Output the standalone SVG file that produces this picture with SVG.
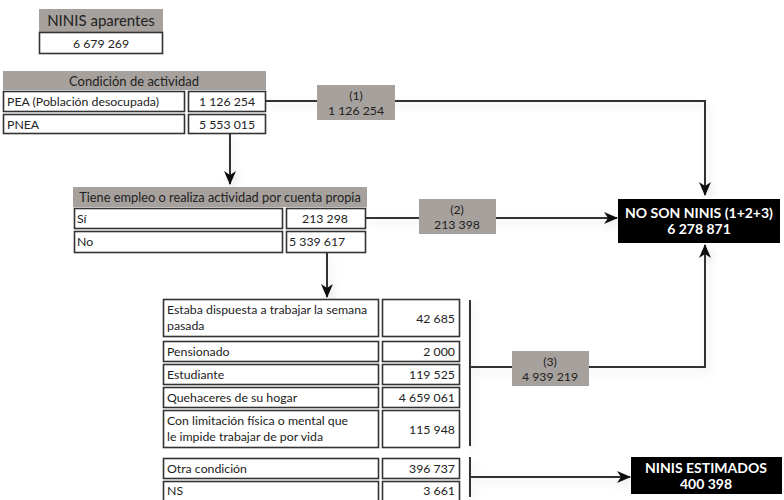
<svg xmlns="http://www.w3.org/2000/svg" width="784" height="500" viewBox="0 0 784 500">
<defs>
<style>
.t{font-family:Lato,"Open Sans","Liberation Sans",sans-serif;font-size:12.3px;fill:#222}
.h{fill:#a6a19d}
.b{fill:#fff;stroke:#333;stroke-width:1.6}
.lb{fill:#a6a19d}
.k{fill:#000}
.w{font-family:Lato,"Open Sans","Liberation Sans",sans-serif;font-size:14px;font-weight:bold;fill:#fff}
.c{fill:none;stroke:#333;stroke-width:2}
.m{text-anchor:middle}
.r{text-anchor:end}
</style>
<marker id="ar" viewBox="0 0 14 12" refX="13" refY="6" markerWidth="14" markerHeight="12" markerUnits="userSpaceOnUse" orient="auto">
<path d="M0,0 L14,6 L0,12 L4,6 z" fill="#111"/>
</marker>
<filter id="sh" x="-20%" y="-20%" width="140%" height="140%">
<feDropShadow dx="3" dy="4" stdDeviation="4" flood-color="#000" flood-opacity="0.12"/>
</filter>
</defs>

<g id="connectors" filter="url(#sh)">
<path class="c" d="M230,134 V184" marker-end="url(#ar)"/>
<path class="c" d="M266,101 H705 V195" marker-end="url(#ar)"/>
<path class="c" d="M365,218 H617" marker-end="url(#ar)"/>
<path class="c" d="M327,252 V297" marker-end="url(#ar)"/>
<path class="c" d="M470,300 V446"/>
<path class="c" d="M470,367 H705 V245" marker-end="url(#ar)"/>
<path class="c" d="M470,457 V497"/>
<path class="c" d="M470,477 H630" marker-end="url(#ar)"/>
</g>

<g id="label1">
<rect class="lb" x="317" y="85" width="78" height="35"/>
<text class="t m" x="356" y="100">(1)</text>
<text class="t m" x="356" y="115">1 126 254</text>
</g>
<g id="label2">
<rect class="lb" x="419" y="199" width="77" height="35"/>
<text class="t m" x="457" y="214">(2)</text>
<text class="t m" x="457" y="229">213 398</text>
</g>
<g id="label3">
<rect class="lb" x="512" y="351" width="77" height="35"/>
<text class="t m" x="550" y="366">(3)</text>
<text class="t m" x="550" y="381">4 939 219</text>
</g>

<g id="ninis-aparentes">
<rect class="h" x="39" y="9" width="124" height="23"/>
<text class="t m" x="101" y="26" style="font-size:15px">NINIS aparentes</text>
<rect class="b" x="39.5" y="32.5" width="123" height="21"/>
<text class="t m" x="101" y="47.5">6 679 269</text>
</g>

<g id="condicion-actividad">
<rect class="h" x="3" y="71" width="263" height="19"/>
<text class="t m" x="134" y="85.5" style="font-size:13px">Condición de actividad</text>
<rect class="b" x="3.5" y="91.5" width="181" height="20"/>
<text class="t" x="7" y="106">PEA (Población desocupada)</text>
<rect class="b" x="188.5" y="91.5" width="77" height="20"/>
<text class="t m" x="227" y="106">1 126 254</text>
<rect class="b" x="3.5" y="114.5" width="181" height="19"/>
<text class="t" x="7" y="128.5">PNEA</text>
<rect class="b" x="188.5" y="114.5" width="77" height="19"/>
<text class="t m" x="227" y="128.5">5 553 015</text>
</g>

<g id="tiene-empleo">
<rect class="h" x="73" y="187" width="294" height="20"/>
<text class="t m" x="220" y="201.5" style="font-size:12.8px">Tiene empleo o realiza actividad por cuenta propia</text>
<rect class="b" x="74.5" y="208.5" width="208" height="20"/>
<text class="t" x="77" y="223">Sí</text>
<rect class="b" x="286.5" y="208.5" width="79" height="20"/>
<text class="t m" x="325" y="223">213 298</text>
<rect class="b" x="74.5" y="231.5" width="208" height="21"/>
<text class="t" x="77" y="246">No</text>
<rect class="b" x="286.5" y="231.5" width="79" height="21"/>
<text class="t" x="289" y="246">5 339 617</text>
</g>

<g id="razones">
<rect class="b" x="163.5" y="299.5" width="215" height="37"/>
<text class="t" x="167" y="314">Estaba dispuesta a trabajar la semana</text>
<text class="t" x="167" y="330">pasada</text>
<rect class="b" x="382.5" y="299.5" width="77" height="37"/>
<text class="t r" x="455" y="323">42 685</text>

<rect class="b" x="163.5" y="341.5" width="215" height="20"/>
<text class="t" x="167" y="356">Pensionado</text>
<rect class="b" x="382.5" y="341.5" width="77" height="20"/>
<text class="t r" x="455" y="356">2 000</text>

<rect class="b" x="163.5" y="364.5" width="215" height="20"/>
<text class="t" x="167" y="379">Estudiante</text>
<rect class="b" x="382.5" y="364.5" width="77" height="20"/>
<text class="t r" x="455" y="379">119 525</text>

<rect class="b" x="163.5" y="387.5" width="215" height="20"/>
<text class="t" x="167" y="402">Quehaceres de su hogar</text>
<rect class="b" x="382.5" y="387.5" width="77" height="20"/>
<text class="t r" x="455" y="402">4 659 061</text>

<rect class="b" x="163.5" y="410.5" width="215" height="37"/>
<text class="t" x="167" y="425">Con limitación física o mental que</text>
<text class="t" x="167" y="441">le impide trabajar de por vida</text>
<rect class="b" x="382.5" y="410.5" width="77" height="37"/>
<text class="t r" x="455" y="434">115 948</text>

<rect class="b" x="163.5" y="458.5" width="215" height="20"/>
<text class="t" x="167" y="473">Otra condición</text>
<rect class="b" x="382.5" y="458.5" width="77" height="20"/>
<text class="t r" x="455" y="473">396 737</text>

<rect class="b" x="163.5" y="481.5" width="215" height="20"/>
<text class="t" x="167" y="495">NS</text>
<rect class="b" x="382.5" y="481.5" width="77" height="20"/>
<text class="t r" x="455" y="495">3 661</text>
</g>

<g id="no-son-ninis">
<rect class="k" x="618" y="199" width="162" height="44"/>
<text class="w m" x="699" y="218">NO SON NINIS (1+2+3)</text>
<text class="w m" x="699" y="234">6 278 871</text>
</g>

<g id="ninis-estimados">
<rect class="k" x="631" y="457" width="151" height="37"/>
<text class="w m" x="706" y="473">NINIS ESTIMADOS</text>
<text class="w m" x="706" y="489">400 398</text>
</g>
</svg>
